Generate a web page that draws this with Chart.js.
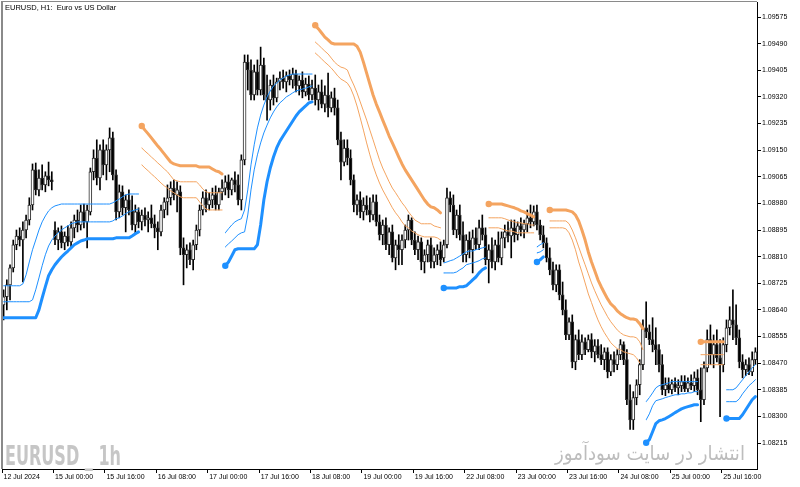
<!DOCTYPE html>
<html>
<head>
<meta charset="utf-8">
<script src="https://cdn.jsdelivr.net/npm/chart.js@4.4.1/dist/chart.umd.min.js"></script>
<style>
html,body{margin:0;padding:0;background:#fff;}
#c{display:block;}
</style>
</head>
<body>
<canvas id="c" width="800" height="487" style="width:800px;height:487px"></canvas>
<script>
// ---------- DATA ----------
const opens = [1.08656,1.08682,1.08720,1.08774,1.08848,1.08876,1.08863,1.08895,1.08927,1.08975,
1.09087,1.09023,1.09061,1.09039,1.09068,1.09055,1.08895,1.08863,1.08889,1.08854,
1.08876,1.08857,1.08902,1.08927,1.08911,1.08953,1.08921,1.08953,1.09081,1.09125,
1.09061,1.09151,1.09103,1.09151,1.09189,1.09071,1.08953,1.09017,1.08966,1.08991,
1.08959,1.08911,1.08953,1.08921,1.08943,1.08927,1.08934,1.08915,1.08902,1.08889,
1.08959,1.08985,1.08998,1.09029,1.09007,1.09017,1.08838,1.08816,1.08832,1.08800,
1.08848,1.08895,1.08959,1.08998,1.08975,1.08991,1.09007,1.08975,1.09017,1.09029,
1.09049,1.09023,1.09055,1.09039,1.08991,1.09119,1.09431,1.09406,1.09326,1.09400,
1.09342,1.09422,1.09326,1.09310,1.09358,1.09317,1.09368,1.09380,1.09368,1.09387,
1.09374,1.09393,1.09355,1.09374,1.09336,1.09361,1.09326,1.09348,1.09310,1.09336,
1.09297,1.09326,1.09285,1.09317,1.09285,1.09183,1.09112,1.09157,1.09125,1.09055,
1.08975,1.08991,1.08953,1.08975,1.08959,1.08943,1.08985,1.08921,1.08880,1.08911,
1.08848,1.08889,1.08806,1.08848,1.08832,1.08863,1.08895,1.08927,1.08863,1.08832,
1.08857,1.08793,1.08816,1.08848,1.08793,1.08816,1.08832,1.08806,1.08848,1.08998,
1.08975,1.08895,1.08943,1.08880,1.08816,1.08863,1.08832,1.08870,1.08848,1.08902,
1.08880,1.08800,1.08832,1.08793,1.08848,1.08806,1.08870,1.08889,1.08876,1.08902,
1.08880,1.08908,1.08895,1.08915,1.08934,1.08921,1.08953,1.08911,1.08880,1.08854,
1.08806,1.08768,1.08720,1.08768,1.08688,1.08640,1.08560,1.08602,1.08474,1.08545,
1.08497,1.08538,1.08513,1.08545,1.08506,1.08525,1.08497,1.08481,1.08506,1.08442,
1.08481,1.08465,1.08497,1.08529,1.08481,1.08353,1.08289,1.08360,1.08401,1.08465,
1.08583,1.08570,1.08545,1.08529,1.08513,1.08465,1.08385,1.08401,1.08385,1.08404,
1.08391,1.08398,1.08411,1.08388,1.08407,1.08398,1.08423,1.08385,1.08353,1.08455,
1.08545,1.08497,1.08529,1.08487,1.08465,1.08529,1.08583,1.08608,1.08592,1.08551,
1.08474,1.08449,1.08465,1.08442,1.08481];

const highs = [1.08704,1.08736,1.08784,1.08863,1.08895,1.08902,1.08921,1.08943,1.08998,1.09106,
1.09109,1.09087,1.09103,1.09081,1.09112,1.09081,1.08921,1.08902,1.08908,1.08889,
1.08908,1.08921,1.08943,1.08959,1.08975,1.08978,1.08975,1.09093,1.09151,1.09183,
1.09167,1.09183,1.09167,1.09221,1.09208,1.09087,1.09039,1.09036,1.09007,1.09023,
1.09004,1.08975,1.08966,1.08959,1.08966,1.08953,1.08975,1.08943,1.08921,1.08975,
1.08998,1.09039,1.09049,1.09055,1.09049,1.09036,1.08870,1.08848,1.08854,1.08863,
1.08911,1.08975,1.09017,1.09023,1.09014,1.09029,1.09036,1.09029,1.09055,1.09068,
1.09071,1.09061,1.09081,1.09071,1.09135,1.09454,1.09454,1.09438,1.09422,1.09438,
1.09479,1.09444,1.09390,1.09374,1.09390,1.09380,1.09400,1.09406,1.09400,1.09406,
1.09412,1.09406,1.09387,1.09400,1.09380,1.09387,1.09374,1.09390,1.09358,1.09374,
1.09355,1.09396,1.09336,1.09348,1.09310,1.09208,1.09183,1.09183,1.09151,1.09071,
1.09007,1.09017,1.08998,1.09004,1.08998,1.09007,1.09007,1.08943,1.08927,1.08934,
1.08902,1.08911,1.08863,1.08880,1.08880,1.08911,1.08943,1.08934,1.08889,1.08876,
1.08870,1.08832,1.08863,1.08870,1.08838,1.08848,1.08857,1.08863,1.09029,1.09017,
1.09007,1.08959,1.08975,1.08921,1.08880,1.08889,1.08895,1.08902,1.08927,1.08943,
1.08902,1.08848,1.08870,1.08863,1.08889,1.08889,1.08911,1.08921,1.08927,1.08927,
1.08921,1.08934,1.08927,1.08959,1.08975,1.08972,1.08975,1.08927,1.08908,1.08870,
1.08838,1.08793,1.08784,1.08784,1.08729,1.08672,1.08615,1.08624,1.08560,1.08576,
1.08560,1.08551,1.08560,1.08564,1.08545,1.08545,1.08529,1.08519,1.08519,1.08497,
1.08506,1.08513,1.08545,1.08538,1.08513,1.08401,1.08379,1.08417,1.08481,1.08608,
1.08666,1.08592,1.08615,1.08583,1.08529,1.08497,1.08423,1.08423,1.08417,1.08423,
1.08417,1.08430,1.08430,1.08423,1.08433,1.08442,1.08449,1.08455,1.08474,1.08576,
1.08592,1.08560,1.08576,1.08545,1.08551,1.08608,1.08650,1.08704,1.08656,1.08576,
1.08497,1.08481,1.08487,1.08506,1.08519];

const lows = [1.08608,1.08640,1.08672,1.08761,1.08832,1.08844,1.08729,1.08870,1.08911,1.08959,
1.09007,1.09004,1.09023,1.09017,1.09036,1.09023,1.08848,1.08832,1.08838,1.08832,
1.08844,1.08838,1.08870,1.08889,1.08895,1.08902,1.08838,1.08943,1.09055,1.09039,
1.09023,1.09071,1.09055,1.09081,1.09055,1.08927,1.08934,1.08943,1.08889,1.08943,
1.08895,1.08880,1.08902,1.08895,1.08908,1.08889,1.08902,1.08870,1.08832,1.08876,
1.08934,1.08943,1.08975,1.08991,1.08953,1.08816,1.08720,1.08774,1.08784,1.08768,
1.08832,1.08876,1.08943,1.08953,1.08959,1.08966,1.08959,1.08959,1.08991,1.09007,
1.08998,1.09007,1.09017,1.08975,1.08959,1.09103,1.09342,1.09310,1.09310,1.09326,
1.09326,1.09310,1.09246,1.09278,1.09294,1.09304,1.09342,1.09348,1.09336,1.09358,
1.09348,1.09336,1.09326,1.09317,1.09323,1.09310,1.09310,1.09294,1.09278,1.09285,
1.09272,1.09256,1.09272,1.09262,1.09167,1.09055,1.09100,1.09103,1.09039,1.08953,
1.08943,1.08934,1.08927,1.08943,1.08921,1.08927,1.08908,1.08863,1.08848,1.08832,
1.08816,1.08793,1.08768,1.08784,1.08784,1.08838,1.08863,1.08848,1.08816,1.08800,
1.08768,1.08758,1.08793,1.08774,1.08774,1.08784,1.08781,1.08793,1.08838,1.08953,
1.08880,1.08870,1.08863,1.08793,1.08793,1.08806,1.08758,1.08832,1.08832,1.08863,
1.08784,1.08726,1.08774,1.08768,1.08793,1.08784,1.08838,1.08857,1.08806,1.08857,
1.08863,1.08876,1.08870,1.08889,1.08902,1.08908,1.08895,1.08863,1.08838,1.08793,
1.08752,1.08704,1.08698,1.08672,1.08624,1.08545,1.08545,1.08455,1.08449,1.08481,
1.08481,1.08497,1.08506,1.08487,1.08474,1.08487,1.08465,1.08449,1.08423,1.08430,
1.08442,1.08449,1.08481,1.08465,1.08337,1.08258,1.08258,1.08337,1.08369,1.08449,
1.08551,1.08529,1.08506,1.08465,1.08442,1.08369,1.08366,1.08375,1.08372,1.08379,
1.08369,1.08379,1.08379,1.08379,1.08385,1.08379,1.08369,1.08283,1.08337,1.08442,
1.08465,1.08455,1.08474,1.08299,1.08442,1.08506,1.08560,1.08545,1.08529,1.08455,
1.08423,1.08430,1.08433,1.08430,1.08465];

const closes = [1.08682,1.08720,1.08774,1.08848,1.08876,1.08863,1.08895,1.08927,1.08975,1.09087,
1.09023,1.09061,1.09039,1.09068,1.09055,1.09049,1.08863,1.08889,1.08854,1.08876,
1.08857,1.08902,1.08927,1.08911,1.08953,1.08921,1.08959,1.09081,1.09125,1.09061,
1.09151,1.09103,1.09151,1.09189,1.09071,1.08953,1.09017,1.08966,1.08991,1.08959,
1.08911,1.08953,1.08921,1.08943,1.08927,1.08934,1.08915,1.08902,1.08889,1.08959,
1.08985,1.08998,1.09029,1.09007,1.09023,1.08838,1.08816,1.08832,1.08800,1.08848,
1.08895,1.08959,1.08998,1.08975,1.08991,1.09007,1.08975,1.09017,1.09029,1.09049,
1.09023,1.09055,1.09039,1.08991,1.09119,1.09431,1.09406,1.09326,1.09400,1.09342,
1.09422,1.09326,1.09310,1.09358,1.09317,1.09368,1.09380,1.09368,1.09387,1.09374,
1.09393,1.09355,1.09374,1.09336,1.09361,1.09326,1.09348,1.09310,1.09336,1.09297,
1.09326,1.09285,1.09317,1.09285,1.09183,1.09112,1.09157,1.09125,1.09055,1.08975,
1.08991,1.08953,1.08975,1.08959,1.08943,1.08985,1.08921,1.08880,1.08911,1.08848,
1.08889,1.08806,1.08848,1.08832,1.08863,1.08895,1.08927,1.08863,1.08832,1.08857,
1.08793,1.08816,1.08848,1.08793,1.08816,1.08832,1.08800,1.08848,1.08998,1.08975,
1.08895,1.08943,1.08880,1.08816,1.08863,1.08832,1.08870,1.08848,1.08902,1.08880,
1.08800,1.08832,1.08793,1.08848,1.08806,1.08870,1.08889,1.08876,1.08902,1.08880,
1.08908,1.08895,1.08915,1.08934,1.08921,1.08953,1.08911,1.08880,1.08854,1.08806,
1.08768,1.08720,1.08768,1.08688,1.08640,1.08560,1.08602,1.08474,1.08545,1.08497,
1.08538,1.08513,1.08545,1.08506,1.08525,1.08497,1.08481,1.08506,1.08442,1.08481,
1.08465,1.08497,1.08529,1.08481,1.08353,1.08289,1.08360,1.08401,1.08465,1.08583,
1.08570,1.08545,1.08529,1.08513,1.08465,1.08385,1.08401,1.08385,1.08404,1.08391,
1.08398,1.08411,1.08388,1.08407,1.08398,1.08423,1.08385,1.08353,1.08455,1.08545,
1.08497,1.08529,1.08487,1.08465,1.08529,1.08583,1.08608,1.08592,1.08551,1.08474,
1.08449,1.08465,1.08442,1.08481,1.08506];

// indicator segments: [first bar index, values]
const lowerBand = [
 [0, [1.08615,1.08615,1.08615,1.08615,1.08615,1.08615,1.08615,1.08615,1.08615,1.08615,1.08615,
      1.08640,1.08678,1.08714,1.08749,1.08768,1.08784,1.08797,1.08809,1.08819,1.08828,1.08838,1.08848,1.08854,1.08860,1.08863,
      1.08867,1.08867,1.08867,1.08867,1.08867,1.08867,1.08867,1.08867,1.08867,
      1.08870,1.08870,1.08870,1.08870,1.08870,1.08876,1.08883,1.08889]],
 [69, [1.08781,1.08793,1.08812,1.08832,1.08835,1.08835,1.08835,1.08835,1.08835,1.08835,
      1.08848,1.08911,1.08991,1.09049,1.09093,1.09128,1.09157,1.09179,1.09195,1.09211,1.09227,1.09243,1.09259,1.09272,1.09282,1.09291,1.09301,1.09304]],
 [137, [1.08710,1.08710,1.08710,1.08710,1.08710,1.08714,1.08714,1.08717,1.08726,1.08736,1.08745,1.08758,1.08768,1.08774]],
 [166, [1.08793,1.08800,1.08809]],
 [200, [1.08216,1.08226,1.08251,1.08277,1.08286,1.08289,1.08293,1.08299,1.08305,1.08312,1.08318,1.08324,1.08328,1.08331,1.08334,1.08337,1.08337]],
 [225, [1.08293,1.08293,1.08293,1.08293,1.08293,1.08305,1.08321,1.08337,1.08353,1.08363]]
];
const lowerInner = [
 [0, [1.08717,1.08717,1.08717,1.08717,1.08717,1.08717,1.08723,1.08752,1.08793,1.08832,1.08863,1.08895,1.08921,1.08940,1.08956,1.08966,1.08972,1.08975,
      1.08978,1.08978,1.08978,1.08978,1.08978,1.08978,1.08978,1.08978,1.08978,1.08978,1.08978,1.08978,1.08978,1.08978,1.08978,1.08978,
      1.08982,1.08988,1.08994,1.09001,1.09007,1.09010,1.09010,1.09010,1.09010]],
 [69, [1.08886,1.08899,1.08911,1.08921,1.08927,1.08931,1.08959,1.09023,1.09103,1.09167,1.09221,1.09262,1.09294,1.09320,1.09339,1.09355,1.09364,1.09374,1.09380,1.09387,1.09390,
      1.09393,1.09393,1.09393,1.09393,1.09393,1.09393,1.09393]],
 [137, [1.08790,1.08793,1.08797,1.08800,1.08806,1.08812,1.08819,1.08825,1.08828,1.08828,1.08832,1.08835,1.08838,1.08841]],
 [166, [1.08841,1.08848,1.08854]],
 [200, [1.08347,1.08360,1.08375,1.08391,1.08398,1.08401,1.08404,1.08407,1.08411,1.08411,1.08411,1.08411,1.08411,1.08411,1.08411,1.08411,1.08411]],
 [225, [1.08385,1.08385,1.08385,1.08391,1.08404,1.08417,1.08430,1.08442,1.08455,1.08465]]
];
const lowerMid = [
 [0, [1.08666,1.08666,1.08666,1.08666,1.08666,1.08666,1.08666,1.08666,1.08666,
      1.08672,1.08704,1.08742,1.08781,1.08816,1.08844,1.08863,1.08876,1.08886,1.08895,1.08902,1.08908,1.08915,1.08918,
      1.08921,1.08921,1.08921,1.08921,1.08921,1.08921,1.08921,1.08921,1.08921,1.08921,1.08921,
      1.08924,1.08931,1.08934,1.08940,1.08947,1.08953,1.08956,1.08959,1.08962]],
 [69, [1.08841,1.08851,1.08860,1.08870,1.08880,1.08886,1.08889,1.08943,1.09023,1.09087,1.09135,1.09173,1.09205,1.09230,1.09253,1.09272,1.09288,1.09301,1.09310,1.09320,1.09326,1.09333,1.09339,1.09342,1.09345,1.09348,1.09352,1.09355]],
 [137, [1.08758,1.08758,1.08758,1.08758,1.08761,1.08768,1.08774,1.08784,1.08787,1.08790,1.08793,1.08797,1.08803,1.08806]],
 [166, [1.08822,1.08825,1.08832]],
 [200, [1.08289,1.08308,1.08334,1.08350,1.08353,1.08356,1.08360,1.08363,1.08366,1.08369,1.08369,1.08372,1.08372,1.08375,1.08375,1.08379,1.08379]],
 [225, [1.08347,1.08347,1.08347,1.08347,1.08356,1.08372,1.08385,1.08398,1.08407,1.08417]]
];
const upperBand = [
 [43, [1.09227,1.09214,1.09202,1.09189,1.09176,1.09163,1.09151,1.09138,1.09125,1.09112,1.09106,1.09103,
       1.09100,1.09100,1.09100,1.09100,1.09100,1.09100,1.09096,1.09096,1.09096,1.09096,1.09090,1.09084,1.09081,1.09074]],
 [97, [1.09549,1.09537,1.09524,1.09511,1.09502,1.09492,1.09489,1.09489,1.09489,1.09489,1.09489,1.09489,1.09489,
       1.09482,1.09463,1.09431,1.09396,1.09361,1.09326,1.09297,1.09272,1.09246,1.09221,1.09195,1.09173,1.09151,1.09128,1.09106,1.09087,1.09071,1.09055,1.09039,1.09023,1.09007,1.08991,1.08978,1.08969,1.08966,1.08959,1.08950]],
 [151, [1.08978,1.08978,1.08978,1.08978,1.08978,1.08975,1.08972,1.08969,1.08966,1.08962,1.08956,1.08953,1.08947,1.08943,1.08937]],
 [170, [1.08959,1.08959,1.08959,1.08959,1.08959,1.08959,1.08956,1.08953,1.08943,1.08924,1.08895,1.08863,1.08825,1.08793,1.08765,1.08736,1.08714,1.08694,1.08675,1.08659,1.08650,1.08637,1.08628,1.08621,1.08615,1.08611,1.08611,1.08608,1.08596,1.08580]],
 [217, [1.08538,1.08538,1.08538,1.08538,1.08538,1.08538,1.08538,1.08538]]
];
const upperInner = [
 [43, [1.09157,1.09147,1.09138,1.09128,1.09119,1.09109,1.09100,1.09090,1.09081,1.09068,1.09055,1.09052,
       1.09049,1.09049,1.09049,1.09049,1.09049,1.09049,1.09039,1.09026,1.09017,1.09014,1.09014,1.09014,1.09014,1.09014]],
 [97, [1.09495,1.09486,1.09476,1.09466,1.09457,1.09444,1.09431,1.09422,1.09415,1.09412,1.09406,1.09380,1.09358,1.09333,1.09304,1.09275,1.09246,1.09214,1.09183,1.09151,1.09119,1.09093,1.09071,1.09049,1.09029,1.09014,1.08998,1.08982,1.08969,1.08953,1.08940,1.08927,1.08921,1.08915,1.08915,1.08915,1.08915,1.08908,1.08905,1.08902]],
 [151, [1.08934,1.08934,1.08934,1.08934,1.08934,1.08931,1.08927,1.08924,1.08921,1.08918,1.08918,1.08915,1.08915,1.08911,1.08911]],
 [170, [1.08924,1.08924,1.08924,1.08924,1.08924,1.08924,1.08915,1.08895,1.08870,1.08841,1.08812,1.08784,1.08755,1.08726,1.08701,1.08678,1.08656,1.08637,1.08618,1.08602,1.08589,1.08576,1.08567,1.08560,1.08557,1.08554,1.08554,1.08551,1.08538,1.08513]],
 [217, [1.08497,1.08497,1.08497,1.08497,1.08497,1.08497,1.08497,1.08497]]
];
const upperOuter = [
 [43, [1.09103,1.09093,1.09084,1.09074,1.09065,1.09055,1.09045,1.09036,1.09029,1.09020,1.09014,1.09007,1.09001,
       1.08998,1.08998,1.08998,1.08998,1.08998,1.08985,1.08972,1.08962,1.08959,1.08959,1.08959,1.08959,1.08959]],
 [97, [1.09460,1.09451,1.09441,1.09431,1.09422,1.09412,1.09400,1.09387,1.09377,1.09371,1.09364,1.09348,1.09323,1.09291,1.09253,1.09214,1.09173,1.09135,1.09100,1.09071,1.09045,1.09023,1.09004,1.08985,1.08966,1.08950,1.08937,1.08921,1.08908,1.08902,1.08892,1.08886,1.08880,1.08876,1.08873,1.08873,1.08873,1.08873,1.08870,1.08863]],
 [151, [1.08902,1.08902,1.08902,1.08902,1.08899,1.08895,1.08892,1.08892,1.08889,1.08886,1.08886,1.08886,1.08886,1.08886,1.08886]],
 [170, [1.08902,1.08902,1.08902,1.08902,1.08902,1.08899,1.08886,1.08863,1.08832,1.08793,1.08761,1.08726,1.08691,1.08663,1.08634,1.08608,1.08586,1.08567,1.08551,1.08535,1.08525,1.08516,1.08513,1.08506,1.08503,1.08500,1.08497,1.08487,1.08471]],
 [217, [1.08465,1.08465,1.08465,1.08465,1.08465,1.08465,1.08465,1.08465]]
];

const timeTicks = ['12 Jul 2024','15 Jul 00:00','15 Jul 16:00','16 Jul 08:00','17 Jul 00:00','17 Jul 16:00',
  '18 Jul 08:00','19 Jul 00:00','19 Jul 16:00','22 Jul 08:00','23 Jul 00:00','23 Jul 16:00',
  '24 Jul 08:00','25 Jul 00:00','25 Jul 16:00'];
const barsPerTick = 16;
const priceTicks = [1.08215,1.08300,1.08385,1.08470,1.08555,1.08640,1.08725,1.08810,1.08895,
  1.08980,1.09065,1.09150,1.09235,1.09320,1.09405,1.09490,1.09575];
const priceMin = 1.08132, priceMax = 1.09623;

// ---------- BUILD ----------
const N = closes.length;
const categories = closes.map((_, i) => i);
function fromSegments(segs) {
  const out = new Array(N).fill(null);
  segs.forEach(([s, vals]) => vals.forEach((v, k) => { out[s + k] = v; }));
  return out;
}
const BLUE = '#1E90FF', ORANGE = '#F4A460';
function startDot(ctx) {
  const d = ctx.dataset.data, i = ctx.dataIndex;
  return (i > 0 && d[i] != null && d[i - 1] == null) ? 3.2 : 0;
}
function lineDs(segs, color, width, dots) {
  return {
    type: 'line', data: fromSegments(segs), borderColor: color, backgroundColor: color,
    borderWidth: width, pointRadius: dots ? startDot : 0, pointHoverRadius: 0,
    pointBorderWidth: 0, pointBackgroundColor: color, spanGaps: false, tension: 0,
    fill: false, order: 0, borderCapStyle: 'round', borderJoinStyle: 'round'
  };
}

const framePlugin = {
  id: 'frame',
  beforeDatasetsDraw(chart) {
    const c = chart.ctx;
    c.save();
    c.fillStyle = '#c6c6c6';
    c.font = 'bold 27px "Liberation Sans Narrow", "DejaVu Sans Condensed", "Liberation Sans", sans-serif';
    c.textBaseline = 'alphabetic';
    c.textAlign = 'left';
    const t1 = 'EURUSD _ 1h';
    const w1 = c.measureText(t1).width;
    c.translate(5, 465);
    c.scale(116 / w1, 1);
    c.fillText(t1, 0, 0);
    c.restore();
    c.save();
    c.fillStyle = '#bdbdbd';
    c.font = '20px "DejaVu Sans", sans-serif';
    c.textBaseline = 'alphabetic';
    c.direction = 'rtl';
    c.textAlign = 'right';
    const t2 = 'انتشار در سایت سودآموز';
    const w2 = c.measureText(t2).width;
    c.translate(745, 460);
    c.scale(190 / w2, 1);
    c.fillText(t2, 0, 0);
    c.restore();
  },
  afterDraw(chart) {
    const c = chart.ctx, a = chart.chartArea;
    c.save();
    c.fillStyle = '#8a8a8a';
    c.fillRect(1, 1, 2, a.bottom - 1);
    c.fillRect(1, 1, a.right - 1, 1);
    c.fillStyle = '#000';
    c.font = '7.5px "Liberation Sans", Arial, sans-serif';
    c.textBaseline = 'middle';
    c.textAlign = 'left';
    c.fillText('EURUSD, H1:  Euro vs US Dollar', 5, 8);
    c.restore();
  }
};

const chart = new Chart(document.getElementById('c'), {
  type: 'bar',
  data: {
    labels: categories,
    datasets: [
      lineDs(lowerBand, BLUE, 3, true),
      lineDs(lowerInner, BLUE, 1, false),
      lineDs(lowerMid, BLUE, 1, false),
      lineDs(upperBand, ORANGE, 3, true),
      lineDs(upperInner, ORANGE, 1, false),
      lineDs(upperOuter, ORANGE, 1, false),
      {
        type: 'bar', data: opens.map((o, i) => [o, closes[i]]),
        backgroundColor: ctx => (closes[ctx.dataIndex] >= opens[ctx.dataIndex] ? '#ffffff' : '#000000'),
        borderColor: '#2a2a2a', borderWidth: 1, borderSkipped: false, barThickness: 3,
        grouped: false, order: 1
      },
      {
        type: 'bar', data: lows.map((l, i) => [l, highs[i]]),
        backgroundColor: '#000', borderWidth: 0, barThickness: 1, grouped: false, order: 2
      }
    ]
  },
  options: {
    responsive: false, animation: false, maintainAspectRatio: false,
    layout: { padding: { left: 2, top: 2, right: 0, bottom: 0 } },
    plugins: { legend: { display: false }, tooltip: { enabled: false }, title: { display: false } },
    events: [],
    scales: {
      x: {
        type: 'category', offset: true,
        grid: {
          display: true, drawOnChartArea: false, drawTicks: true, tickLength: 4, offset: true,
          color: ctx => (ctx.index % barsPerTick === 0 ? '#000' : 'rgba(0,0,0,0)')
        },
        border: { display: true, color: '#000', width: 1 },
        ticks: {
          autoSkip: false, maxRotation: 0, minRotation: 0, align: 'start', padding: 0,
          color: '#000', font: { family: '"Liberation Sans", Arial, sans-serif', size: 7 },
          callback: (v, i) => (i % barsPerTick === 0 ? (timeTicks[i / barsPerTick] || '') : '')
        },
        afterFit: s => { s.height = 18; s.paddingLeft = 0; s.paddingRight = 0; }
      },
      y: {
        position: 'right', min: priceMin, max: priceMax,
        afterBuildTicks: s => { s.ticks = priceTicks.map(v => ({ value: v })); },
        grid: { display: true, drawOnChartArea: false, drawTicks: true, tickLength: 4, color: '#000' },
        border: { display: true, color: '#000', width: 1 },
        ticks: {
          padding: 1, color: '#000', font: { family: '"Liberation Sans", Arial, sans-serif', size: 7 },
          callback: v => Number(v).toFixed(5)
        },
        afterFit: s => { s.width = 43; s.paddingTop = 0; s.paddingBottom = 0; }
      }
    }
  },
  plugins: [framePlugin]
});
</script>
</body>
</html>
